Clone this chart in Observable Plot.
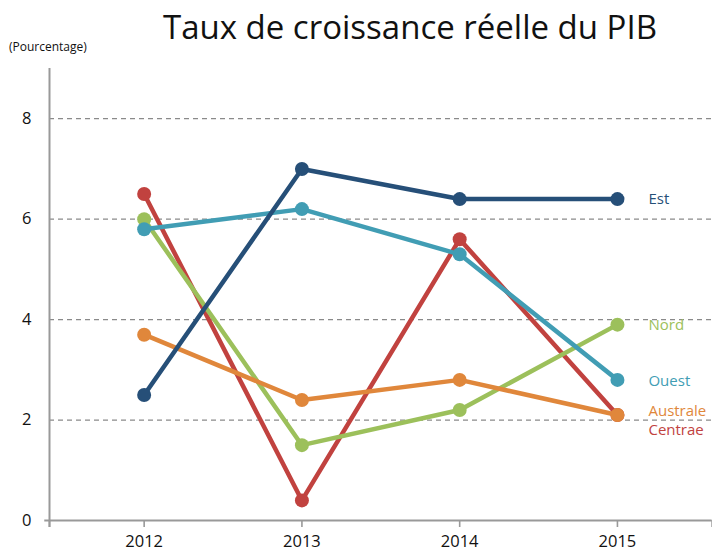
<!DOCTYPE html>
<html>
<head>
<meta charset="utf-8">
<script src="https://cdn.jsdelivr.net/npm/d3@7"></script>
<script src="https://cdn.jsdelivr.net/npm/@observablehq/plot@0.6"></script>
<style>
  body { margin: 0; background: #fff; }
  #wrap { position: relative; width: 712px; height: 552px; font-family: "Open Sans", sans-serif; }
  #title { position: absolute; left: 0; width: 712px; padding-left: 108px; box-sizing: border-box; top: 4px; text-align: center; font-size: 33px; color: #111; white-space: nowrap; }
  #sub { position: absolute; left: 9px; top: 38px; font-size: 12px; color: #111; }
  svg { display: block; }
</style>
</head>
<body>
<div id="wrap">
  <div id="title">Taux de croissance réelle du PIB</div>
  <div id="sub">(Pourcentage)</div>
  <div id="chart"></div>
</div>
<script>
const years = [2012, 2013, 2014, 2015];
const seriesNames = ["Centrae", "Nord", "Australe", "Ouest", "Est"];
const est = [2.5, 7.0, 6.4, 6.4];
const ouest = [5.8, 6.2, 5.3, 2.8];
const nord = [6.0, 1.5, 2.2, 3.9];
const australe = [3.7, 2.4, 2.8, 2.1];
const centrae = [6.5, 0.4, 5.6, 2.1];
const yTicks = [0, 2, 4, 6, 8];
const gridTicks = [2, 4, 6, 8];

const seriesValues = { Centrae: centrae, Nord: nord, Australe: australe, Ouest: ouest, Est: est };
const colors = { Est: "#264f78", Ouest: "#419db4", Nord: "#9cc05b", Australe: "#e0873b", Centrae: "#c1423f" };
const labelDy = { Est: 0, Ouest: 1, Nord: 1, Australe: -4, Centrae: 15 };

const xDomain = [2011.4, 2015.6];
const yDomain = [0, 9];
const axisColor = "#999";

const marks = [
  Plot.gridY(gridTicks, { stroke: "#8a8a8a", strokeOpacity: 1, strokeDasharray: "5,4", strokeWidth: 1.2 }),
  Plot.ruleX([xDomain[0]], { y1: -0.14, y2: yDomain[1], stroke: axisColor, strokeWidth: 2 }),
  Plot.ruleY([0], { x1: 2011.37, x2: xDomain[1], stroke: axisColor, strokeWidth: 2.2 }),
  Plot.ruleX([xDomain[0], ...years, xDomain[1]], { y1: 0, y2: -0.14, stroke: axisColor, strokeWidth: 1.6 }),
  Plot.axisY(yTicks, { tickSize: 0, tickPadding: 18, fontSize: 16.5, fill: "#111", label: null, tickFormat: d => String(d) }),
  Plot.axisX(years, { tickSize: 0, tickPadding: 15, fontSize: 16.5, fill: "#111", label: null, tickFormat: d => String(d) })
];

for (const name of seriesNames) {
  const data = years.map((yr, i) => ({ year: yr, value: seriesValues[name][i] }));
  marks.push(Plot.line(data, { x: "year", y: "value", stroke: colors[name], strokeWidth: 4.5, strokeLinejoin: "round" }));
  marks.push(Plot.dot(data, { x: "year", y: "value", fill: colors[name], r: 7 }));
}
for (const name of seriesNames) {
  const last = [{ year: years[years.length - 1], value: seriesValues[name][years.length - 1], name }];
  marks.push(Plot.text(last, { x: "year", y: "value", text: "name", fill: colors[name], dx: 31, dy: labelDy[name], textAnchor: "start", fontSize: 15 }));
}

const chart = Plot.plot({
  width: 712,
  height: 552,
  marginTop: 68,
  marginBottom: 32,
  marginLeft: 49,
  marginRight: 0.4,
  x: { type: "linear", domain: xDomain, axis: null },
  y: { domain: yDomain, axis: null },
  style: { fontFamily: "Open Sans, sans-serif", background: "transparent", overflow: "visible" },
  marks
});
document.getElementById("chart").appendChild(chart);
</script>
</body>
</html>
